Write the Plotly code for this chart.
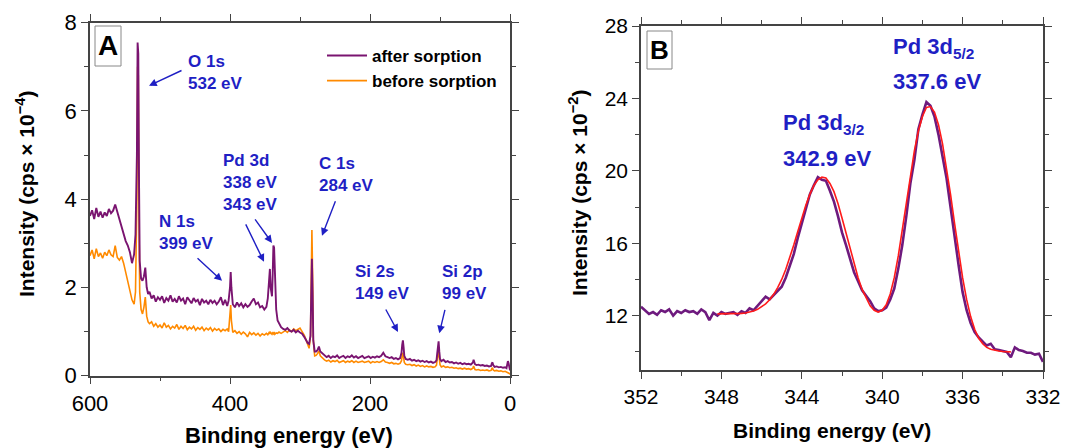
import plotly.graph_objects as go

# ---------------- Panel A: survey spectra ----------------
energy_A = [600,597,594,591,588,585,582,579,576,573,570,567,564,561,558,555,552,549,546,543,540,537,535,533,532,531,530,529,527,525,523,521,519,517,515,512,509,506,503,500,497,494,491,488,485,482,479,476,473,470,467,464,461,458,455,452,449,446,443,440,437,434,431,428,425,422,419,416,413,410,407,404,402,400,399,398,396,393,390,387,384,381,378,375,372,369,366,363,360,357,354,351,348,346,344,343,342,340,339,338,337,336,334,332,330,327,324,321,318,315,312,309,306,303,300,297,294,291,289,287,285,284,283,282,281,279,277,275,273,271,268,265,262,259,256,253,250,247,244,241,238,235,232,229,226,223,220,217,214,211,208,205,202,199,196,193,190,187,184,181,178,175,172,169,166,163,160,157,155,154,153,152,151,149,146,143,140,137,134,131,128,125,122,119,116,113,110,107,105,104,103,102,101,100,98,95,92,89,86,83,80,77,74,71,68,65,62,59,56,53,52,51,50,48,45,42,39,36,33,30,27,26,25,24,22,19,16,13,10,7,5,4,3,2,1,0]

after_sorption = [3.62,3.75,3.55,3.80,3.60,3.72,3.58,3.70,3.62,3.78,3.68,3.74,3.88,3.72,3.55,3.40,3.25,3.05,2.95,2.80,2.55,2.75,3.2,5.0,7.55,7.3,4.5,2.6,2.2,2.15,2.25,2.45,2.0,1.85,1.9,1.75,1.82,1.68,1.78,1.72,1.80,1.65,1.76,1.70,1.82,1.68,1.74,1.66,1.80,1.70,1.75,1.62,1.78,1.70,1.64,1.76,1.68,1.72,1.60,1.74,1.66,1.70,1.62,1.72,1.65,1.70,1.62,1.68,1.78,1.60,1.72,1.58,1.70,2.0,2.35,2.0,1.62,1.55,1.66,1.58,1.64,1.55,1.62,1.56,1.60,1.68,1.75,1.62,1.66,1.55,1.58,1.50,1.56,1.75,2.35,2.42,2.0,1.8,2.3,2.95,2.9,2.2,1.5,1.25,1.18,1.10,1.06,1.04,1.08,1.02,1.00,1.04,0.98,1.02,0.98,0.95,0.88,0.80,0.74,0.72,0.9,1.8,2.65,1.9,0.8,0.55,0.55,0.58,0.66,0.55,0.50,0.46,0.42,0.45,0.40,0.44,0.42,0.46,0.40,0.43,0.45,0.40,0.44,0.42,0.46,0.41,0.44,0.40,0.43,0.45,0.40,0.42,0.44,0.40,0.43,0.41,0.44,0.42,0.45,0.52,0.44,0.42,0.40,0.42,0.38,0.40,0.37,0.40,0.52,0.70,0.80,0.65,0.45,0.38,0.36,0.38,0.34,0.36,0.33,0.35,0.32,0.34,0.31,0.33,0.30,0.32,0.29,0.31,0.35,0.50,0.72,0.78,0.55,0.38,0.33,0.36,0.31,0.33,0.30,0.31,0.28,0.30,0.27,0.29,0.26,0.28,0.26,0.27,0.25,0.30,0.36,0.30,0.26,0.24,0.25,0.23,0.24,0.22,0.23,0.21,0.22,0.28,0.30,0.24,0.20,0.21,0.19,0.20,0.18,0.19,0.17,0.25,0.33,0.28,0.18,0.12]

before_sorption = [2.72,2.85,2.65,2.88,2.70,2.78,2.66,2.80,2.72,2.85,2.74,2.70,2.95,2.68,2.62,2.70,2.55,2.35,2.15,1.95,1.72,1.62,1.9,4.0,7.0,6.8,3.5,1.9,1.5,1.4,1.55,1.78,1.35,1.22,1.18,1.22,1.12,1.18,1.10,1.15,1.08,1.20,1.10,1.14,1.06,1.12,1.08,1.16,1.05,1.12,1.07,1.14,1.04,1.10,1.06,1.12,1.03,1.09,1.05,1.10,1.02,1.08,1.04,1.09,1.01,1.07,1.03,1.06,1.00,1.05,1.02,1.06,1.00,1.3,1.6,1.25,0.98,1.02,0.96,1.00,0.94,0.99,0.95,0.88,0.98,0.93,0.97,0.92,0.96,0.90,0.95,0.92,0.96,0.93,0.98,0.95,0.98,0.94,0.97,0.95,0.99,0.94,0.97,0.96,0.99,0.96,1.00,1.02,0.98,1.04,1.00,1.06,1.02,1.05,1.08,1.00,0.92,0.80,0.68,0.62,0.9,2.2,3.3,2.3,0.8,0.45,0.46,0.50,0.56,0.45,0.40,0.36,0.33,0.35,0.31,0.34,0.32,0.35,0.30,0.33,0.34,0.30,0.33,0.31,0.34,0.30,0.33,0.30,0.32,0.33,0.30,0.31,0.33,0.29,0.32,0.30,0.32,0.30,0.32,0.36,0.31,0.30,0.28,0.30,0.27,0.28,0.26,0.28,0.34,0.45,0.52,0.42,0.30,0.26,0.25,0.26,0.23,0.25,0.22,0.24,0.21,0.23,0.20,0.22,0.20,0.21,0.19,0.20,0.24,0.38,0.52,0.56,0.40,0.25,0.20,0.22,0.19,0.20,0.18,0.19,0.17,0.18,0.16,0.17,0.15,0.17,0.15,0.16,0.14,0.17,0.22,0.17,0.14,0.13,0.14,0.12,0.13,0.12,0.13,0.11,0.12,0.16,0.18,0.13,0.11,0.12,0.10,0.11,0.09,0.10,0.08,0.09,0.08,0.06,0.05,0.03]

# ---------------- Panel B: Pd 3d high resolution ----------------
energy_B = [352.0,351.8,351.6,351.4,351.2,351.0,350.8,350.6,350.4,350.2,350.0,349.8,349.6,349.4,349.2,349.0,348.8,348.6,348.4,348.2,348.0,347.8,347.6,347.4,347.2,347.0,346.8,346.6,346.4,346.2,346.0,345.8,345.6,345.4,345.2,345.0,344.8,344.6,344.4,344.2,344.0,343.8,343.6,343.4,343.2,343.0,342.8,342.6,342.4,342.2,342.0,341.8,341.6,341.4,341.2,341.0,340.8,340.6,340.4,340.2,340.0,339.8,339.6,339.4,339.2,339.0,338.8,338.6,338.4,338.2,338.0,337.8,337.6,337.4,337.2,337.0,336.8,336.6,336.4,336.2,336.0,335.8,335.6,335.4,335.2,335.0,334.8,334.6,334.4,334.2,334.0,333.8,333.6,333.4,333.2,333.0,332.8,332.6,332.4,332.2,332.0]
pd3d_measured = [12.5,12.3,12.1,12.2,12.05,12.3,12.2,12.35,12.0,12.25,12.15,12.3,12.2,12.25,12.1,12.35,12.2,11.75,12.15,12.0,12.2,12.1,12.15,12.2,12.05,12.25,12.15,12.4,12.3,12.55,12.75,13.05,12.9,13.15,13.4,13.6,14.1,14.7,15.4,16.3,17.1,17.9,18.7,19.2,19.65,19.5,19.45,18.9,18.3,17.5,16.6,15.9,15.1,14.4,13.9,13.4,13.1,12.8,12.4,12.25,12.3,12.45,12.9,13.5,14.6,15.9,17.5,19.3,20.6,22.3,23.1,23.8,23.6,23.0,22.0,20.9,19.6,18.0,16.3,14.8,13.3,12.3,11.6,11.1,10.8,10.6,10.35,10.45,10.15,10.1,10.05,10.0,9.7,10.25,10.1,10.05,9.95,9.95,9.85,9.9,9.45]

energy_fit = [348.2,348.0,347.8,347.6,347.4,347.2,347.0,346.8,346.6,346.4,346.2,346.0,345.8,345.6,345.4,345.2,345.0,344.8,344.6,344.4,344.2,344.0,343.8,343.6,343.4,343.2,343.0,342.8,342.6,342.4,342.2,342.0,341.8,341.6,341.4,341.2,341.0,340.8,340.6,340.4,340.2,340.0,339.8,339.6,339.4,339.2,339.0,338.8,338.6,338.4,338.2,338.0,337.8,337.6,337.4,337.2,337.0,336.8,336.6,336.4,336.2,336.0,335.8,335.6,335.4,335.2,335.0,334.8,334.6,334.4,334.2,334.0,333.8,333.6]
pd3d_fit = [12.1,12.1,12.1,12.1,12.1,12.12,12.13,12.15,12.2,12.26,12.35,12.48,12.65,12.88,13.18,13.55,14.0,14.55,15.2,15.9,16.65,17.4,18.1,18.7,19.2,19.5,19.65,19.6,19.3,18.85,18.2,17.4,16.55,15.7,14.85,14.1,13.45,12.95,12.55,12.3,12.2,12.3,12.6,13.2,14.1,15.3,16.7,18.2,19.7,21.1,22.2,23.0,23.5,23.55,23.25,22.55,21.5,20.2,18.7,17.1,15.55,14.1,12.9,11.95,11.25,10.75,10.45,10.25,10.15,10.08,10.05,10.02,10.0,10.0]

PURPLE = "#7A1470"
ORANGE = "#FF8A00"
BLUE = "#1F1FC4"
FONT = "Liberation Sans, Arial, sans-serif"

fig = go.Figure()
fig.add_trace(go.Scatter(x=energy_A, y=before_sorption, mode="lines",
                         line=dict(color=ORANGE, width=1.6), name="<b>before sorption</b>",
                         xaxis="x", yaxis="y", legendrank=2))
fig.add_trace(go.Scatter(x=energy_A, y=after_sorption, mode="lines",
                         line=dict(color=PURPLE, width=1.9), name="<b>after sorption</b>",
                         xaxis="x", yaxis="y", legendrank=1))
fig.add_trace(go.Scatter(x=energy_B, y=pd3d_measured, mode="lines",
                         line=dict(color="#6E1A7E", width=2.6), showlegend=False,
                         xaxis="x2", yaxis="y2"))
fig.add_trace(go.Scatter(x=energy_fit, y=pd3d_fit, mode="lines",
                         line=dict(color="#FF1A1A", width=1.6), showlegend=False,
                         xaxis="x2", yaxis="y2"))

W, H = 1071, 448
def px(x):
    return x / W
def py(y):
    return 1 - y / H

axis_common = dict(showline=True, linecolor="#444", linewidth=1.5, mirror="ticks",
                   ticks="outside", ticklen=7, tickcolor="#444", tickwidth=1.3,
                   showgrid=False, zeroline=False, automargin=False)

fig.update_layout(
    width=W, height=H, margin=dict(l=0, r=0, t=0, b=0, autoexpand=False),
    paper_bgcolor="white", plot_bgcolor="white",
    font=dict(family=FONT, color="black"),
    xaxis=dict(domain=[px(90), px(510)], range=[600, 0], tickvals=[600, 400, 200, 0],
               minor=dict(tickvals=[500, 300, 100], ticklen=4, ticks="outside", tickcolor="#444"),
               tickfont=dict(size=22), anchor="y", **axis_common),
    yaxis=dict(domain=[py(375.7), py(22.7)], range=[0, 8], tickvals=[0, 2, 4, 6, 8],
               minor=dict(tickvals=[1, 3, 5, 7], ticklen=4, ticks="outside", tickcolor="#444"),
               tickfont=dict(size=22), anchor="x", **axis_common),
    xaxis2=dict(domain=[px(641), px(1043)], range=[352, 332], tickvals=[352, 348, 344, 340, 336, 332],
                minor=dict(tickvals=[350, 346, 342, 338, 334], ticklen=4, ticks="outside", tickcolor="#444"),
                tickfont=dict(size=21), anchor="y2", **axis_common),
    yaxis2=dict(domain=[py(370), py(26)], range=[9, 28], tickvals=[12, 16, 20, 24, 28],
                minor=dict(tickvals=[10, 14, 18, 22, 26], ticklen=4, ticks="outside", tickcolor="#444"),
                tickfont=dict(size=21), anchor="x2", **axis_common),
    legend=dict(x=px(322), y=py(38), xanchor="left", yanchor="top",
                bgcolor="rgba(0,0,0,0)", font=dict(size=17, family=FONT, color="black"),
                tracegroupgap=0, itemwidth=40),
)

ann = []
# axis titles
ann.append(dict(text="<b>Binding energy (eV)</b>", x=px(289), y=py(435), xref="paper", yref="paper",
                showarrow=False, font=dict(size=22), xanchor="center", yanchor="middle"))
ann.append(dict(text="<b>Binding energy (eV)</b>", x=px(832), y=py(430), xref="paper", yref="paper",
                showarrow=False, font=dict(size=21), xanchor="center", yanchor="middle"))
ann.append(dict(text="<b>Intensity (cps × 10<sup>−4</sup>)</b>", x=px(25), y=py(194), xref="paper", yref="paper",
                showarrow=False, font=dict(size=21), textangle=-90, xanchor="center", yanchor="middle"))
ann.append(dict(text="<b>Intensity (cps × 10<sup>−2</sup>)</b>", x=px(578), y=py(193), xref="paper", yref="paper",
                showarrow=False, font=dict(size=21), textangle=-90, xanchor="center", yanchor="middle"))
# panel letters
ann.append(dict(text="<b>A</b>", x=px(108), y=py(46), xref="paper", yref="paper", showarrow=False,
                font=dict(size=28), xanchor="center", yanchor="middle"))
ann.append(dict(text="<b>B</b>", x=px(659), y=py(50), xref="paper", yref="paper", showarrow=False,
                font=dict(size=26), xanchor="center", yanchor="middle"))

# peak labels, panel A
labels_A = [
    ("O 1s<br>532 eV", 462.9, 6.86),
    ("N 1s<br>399 eV", 504.3, 3.24),
    ("Pd 3d<br>338 eV<br>343 eV", 413.3, 4.38),
    ("C 1s<br>284 eV", 275.7, 4.56),
    ("Si 2s<br>149 eV", 224.7, 2.12),
    ("Si 2p<br>99 eV", 100.0, 2.12),
]
for t, x, y in labels_A:
    ann.append(dict(text="<b>" + t + "</b>", x=x, y=y, xref="x", yref="y", showarrow=False,
                    xanchor="left", yanchor="middle", align="left",
                    font=dict(size=17, color=BLUE)))

arrows_A = [
    (515.7, 6.57, 34, -16),
    (411.4, 2.15, -26, -24),
    (351.4, 2.58, -19, -39),
    (340.0, 3.01, -18, -25),
    (268.6, 3.17, 14, -36),
    (160.0, 0.99, -13, -24),
    (101.0, 0.96, 6, -25),
]
for x, y, ax, ay in arrows_A:
    ann.append(dict(text="", x=x, y=y, xref="x", yref="y", ax=ax, ay=ay, axref="pixel", ayref="pixel",
                    showarrow=True, arrowhead=2, arrowsize=1.1, arrowwidth=1.4, arrowcolor=BLUE))

# peak labels, panel B
labels_B = [
    ("Pd 3d<sub>3/2</sub>", 345.03, 22.59),
    ("342.9 eV", 345.03, 20.66),
    ("Pd 3d<sub>5/2</sub>", 339.58, 26.79),
    ("337.6 eV", 339.58, 24.91),
]
for t, x, y in labels_B:
    ann.append(dict(text="<b>" + t + "</b>", x=x, y=y, xref="x2", yref="y2", showarrow=False,
                    xanchor="left", yanchor="middle", font=dict(size=22, color=BLUE)))

fig.update_layout(annotations=ann)

fig.update_layout(shapes=[
    dict(type="rect", xref="paper", yref="paper", x0=px(95), x1=px(121), y0=py(66), y1=py(26),
         line=dict(color="#888", width=1)),
    dict(type="rect", xref="paper", yref="paper", x0=px(647), x1=px(672), y0=py(69), y1=py(31),
         line=dict(color="#888", width=1)),
])

fig.write_html("out.html")
